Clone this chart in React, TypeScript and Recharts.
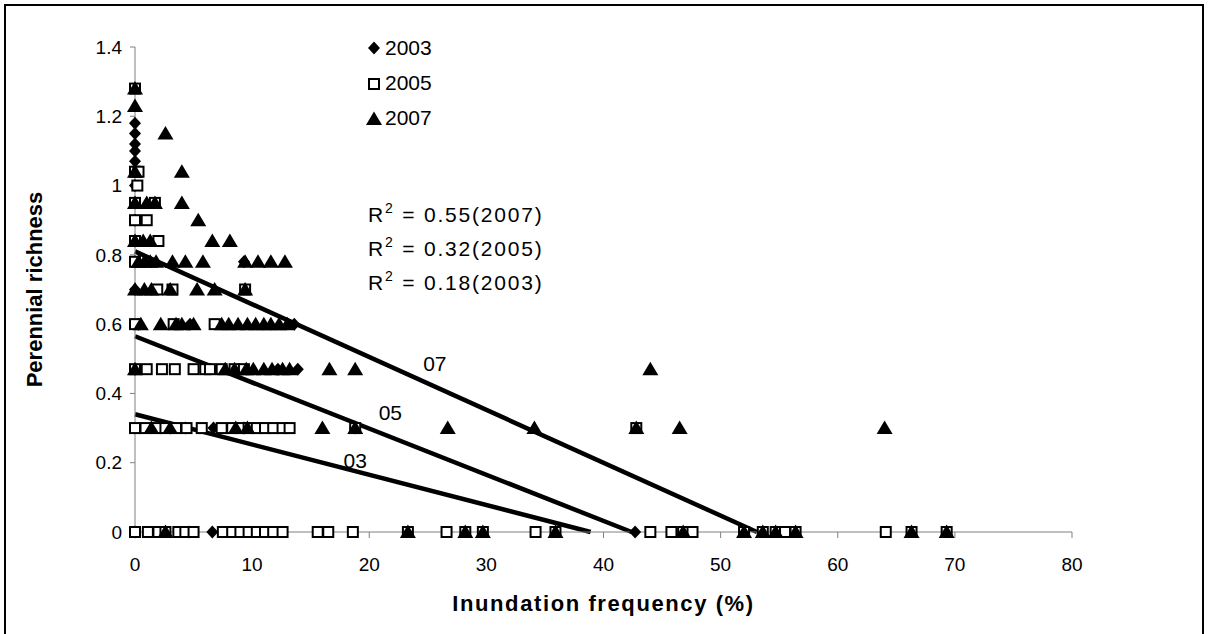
import React from "react";
import {
  ScatterChart,
  Scatter,
  XAxis,
  YAxis,
  ReferenceLine,
  ReferenceDot,
  Legend,
} from "recharts";

const FONT = '"Liberation Sans", Arial, sans-serif';

const X_TICKS = [0, 10, 20, 30, 40, 50, 60, 70, 80];
const Y_TICKS = [0, 0.2, 0.4, 0.6, 0.8, 1, 1.2, 1.4];

// 2003 (filled diamonds)
const SERIES_2003 = [
  { x: 0, y: 1.18 }, { x: 0, y: 1.15 }, { x: 0, y: 1.12 }, { x: 0, y: 1.1 },
  { x: 0, y: 1.07 }, { x: 0, y: 1.0 }, { x: 0, y: 0.95 }, { x: 0, y: 0.9 },
  { x: 0, y: 0.84 }, { x: 0, y: 0.78 }, { x: 9.3, y: 0.78 }, { x: 0, y: 0.7 },
  { x: 0.3, y: 0.6 }, { x: 4.7, y: 0.6 }, { x: 13.6, y: 0.6 },
  { x: 0, y: 0.47 }, { x: 12.2, y: 0.47 }, { x: 13.9, y: 0.47 },
  { x: 3.0, y: 0.3 }, { x: 4.3, y: 0.3 }, { x: 6.7, y: 0.3 }, { x: 9.3, y: 0.3 },
  { x: 18.8, y: 0.3 },
  { x: 0, y: 0 }, { x: 4.6, y: 0 }, { x: 6.6, y: 0 }, { x: 42.7, y: 0 },
];

// 2005 (open squares)
const SERIES_2005 = [
  { x: 0, y: 1.28 }, { x: 0, y: 1.04 }, { x: 0.3, y: 1.04 }, { x: 0.2, y: 1.0 },
  { x: 0, y: 0.95 }, { x: 1.7, y: 0.95 }, { x: 0, y: 0.9 }, { x: 1.0, y: 0.9 },
  { x: 0, y: 0.84 }, { x: 2.0, y: 0.84 }, { x: 0, y: 0.78 },
  { x: 1.9, y: 0.7 }, { x: 3.2, y: 0.7 }, { x: 9.4, y: 0.7 },
  { x: 0, y: 0.6 }, { x: 3.3, y: 0.6 }, { x: 6.8, y: 0.6 },
  { x: 0, y: 0.47 }, { x: 1.0, y: 0.47 }, { x: 2.3, y: 0.47 }, { x: 3.4, y: 0.47 },
  { x: 5.0, y: 0.47 }, { x: 6.0, y: 0.47 }, { x: 6.4, y: 0.47 }, { x: 7.4, y: 0.47 },
  { x: 8.5, y: 0.47 }, { x: 9.3, y: 0.47 },
  { x: 0, y: 0.3 }, { x: 0.9, y: 0.3 }, { x: 1.8, y: 0.3 }, { x: 2.6, y: 0.3 },
  { x: 3.5, y: 0.3 }, { x: 4.4, y: 0.3 }, { x: 5.7, y: 0.3 }, { x: 7.4, y: 0.3 },
  { x: 8.3, y: 0.3 }, { x: 9.0, y: 0.3 }, { x: 9.7, y: 0.3 }, { x: 10.4, y: 0.3 },
  { x: 11.1, y: 0.3 }, { x: 11.8, y: 0.3 }, { x: 12.6, y: 0.3 }, { x: 13.2, y: 0.3 },
  { x: 18.8, y: 0.3 }, { x: 42.8, y: 0.3 },
  { x: 0, y: 0 }, { x: 1.1, y: 0 }, { x: 2.0, y: 0 }, { x: 2.6, y: 0 },
  { x: 3.7, y: 0 }, { x: 4.3, y: 0 }, { x: 5.0, y: 0 }, { x: 7.5, y: 0 },
  { x: 8.3, y: 0 }, { x: 9.0, y: 0 }, { x: 9.7, y: 0 }, { x: 10.4, y: 0 },
  { x: 11.1, y: 0 }, { x: 11.8, y: 0 }, { x: 12.6, y: 0 }, { x: 15.6, y: 0 },
  { x: 16.5, y: 0 }, { x: 18.6, y: 0 }, { x: 23.3, y: 0 }, { x: 26.6, y: 0 },
  { x: 28.2, y: 0 }, { x: 29.7, y: 0 }, { x: 34.2, y: 0 }, { x: 35.9, y: 0 },
  { x: 44.0, y: 0 }, { x: 45.8, y: 0 }, { x: 46.8, y: 0 }, { x: 47.6, y: 0 },
  { x: 52.0, y: 0 }, { x: 53.6, y: 0 }, { x: 54.7, y: 0 }, { x: 55.5, y: 0 },
  { x: 56.4, y: 0 }, { x: 64.1, y: 0 }, { x: 66.3, y: 0 }, { x: 69.3, y: 0 },
];

// 2007 (filled triangles)
const SERIES_2007 = [
  { x: 0, y: 1.28 }, { x: 0, y: 1.23 }, { x: 2.6, y: 1.15 }, { x: 0, y: 1.04 },
  { x: 4.0, y: 1.04 }, { x: 0, y: 0.95 }, { x: 1.0, y: 0.95 }, { x: 1.7, y: 0.95 },
  { x: 4.0, y: 0.95 }, { x: 5.4, y: 0.9 }, { x: 0, y: 0.84 }, { x: 0.7, y: 0.84 },
  { x: 1.3, y: 0.84 }, { x: 6.6, y: 0.84 }, { x: 8.1, y: 0.84 },
  { x: 0.3, y: 0.78 }, { x: 0.8, y: 0.78 }, { x: 1.3, y: 0.78 }, { x: 1.8, y: 0.78 },
  { x: 3.2, y: 0.78 }, { x: 4.3, y: 0.78 }, { x: 5.8, y: 0.78 }, { x: 9.4, y: 0.78 },
  { x: 10.5, y: 0.78 }, { x: 11.6, y: 0.78 }, { x: 12.8, y: 0.78 },
  { x: 0, y: 0.7 }, { x: 0.8, y: 0.7 }, { x: 1.4, y: 0.7 }, { x: 3.0, y: 0.7 },
  { x: 5.3, y: 0.7 }, { x: 6.8, y: 0.7 }, { x: 9.4, y: 0.7 },
  { x: 0.5, y: 0.6 }, { x: 2.2, y: 0.6 }, { x: 3.5, y: 0.6 }, { x: 4.0, y: 0.6 },
  { x: 5.0, y: 0.6 }, { x: 7.4, y: 0.6 }, { x: 8.0, y: 0.6 }, { x: 8.8, y: 0.6 },
  { x: 9.6, y: 0.6 }, { x: 10.3, y: 0.6 }, { x: 11.0, y: 0.6 }, { x: 11.6, y: 0.6 },
  { x: 12.3, y: 0.6 }, { x: 13.0, y: 0.6 },
  { x: 0, y: 0.47 }, { x: 7.7, y: 0.47 }, { x: 8.5, y: 0.47 }, { x: 9.5, y: 0.47 },
  { x: 10.1, y: 0.47 }, { x: 11.0, y: 0.47 }, { x: 11.7, y: 0.47 }, { x: 12.6, y: 0.47 },
  { x: 13.2, y: 0.47 }, { x: 16.6, y: 0.47 }, { x: 18.8, y: 0.47 }, { x: 44.0, y: 0.47 },
  { x: 1.4, y: 0.3 }, { x: 3.0, y: 0.3 }, { x: 8.6, y: 0.3 }, { x: 9.6, y: 0.3 },
  { x: 16.0, y: 0.3 }, { x: 18.8, y: 0.3 }, { x: 26.7, y: 0.3 }, { x: 34.1, y: 0.3 },
  { x: 42.8, y: 0.3 }, { x: 46.5, y: 0.3 }, { x: 64.0, y: 0.3 },
  { x: 2.6, y: 0 }, { x: 23.3, y: 0 }, { x: 28.2, y: 0 }, { x: 29.7, y: 0 },
  { x: 35.9, y: 0 }, { x: 46.8, y: 0 }, { x: 52.0, y: 0 }, { x: 53.6, y: 0 },
  { x: 54.7, y: 0 }, { x: 56.4, y: 0 }, { x: 66.3, y: 0 }, { x: 69.3, y: 0 },
];

// linear trend lines (start / end points)
const TREND_2007 = [{ x: 0, y: 0.81 }, { x: 53.1, y: 0 }];
const TREND_2005 = [{ x: 0, y: 0.565 }, { x: 42.4, y: 0 }];
const TREND_2003 = [{ x: 0, y: 0.34 }, { x: 38.9, y: 0 }];

const TREND_LABELS = [
  { text: "07", x: 25.6, y: 0.485 },
  { text: "05", x: 21.8, y: 0.346 },
  { text: "03", x: 18.8, y: 0.205 },
];

const R2_LINES = [
  { r2: "0.55", year: "2007" },
  { r2: "0.32", year: "2005" },
  { r2: "0.18", year: "2003" },
];

const LEGEND_ITEMS = [
  { name: "2003", shape: "diamond" },
  { name: "2005", shape: "square" },
  { name: "2007", shape: "triangle" },
];

const Diamond = ({ cx, cy }: any) => (
  <path d={`M${cx},${cy - 6.5}L${cx + 6},${cy}L${cx},${cy + 6.5}L${cx - 6},${cy}Z`} fill="#000" />
);
const Square = ({ cx, cy }: any) => (
  <rect x={cx - 5} y={cy - 5} width={10} height={10} fill="#fff" stroke="#000" strokeWidth={2} />
);
const Triangle = ({ cx, cy }: any) => (
  <path d={`M${cx},${cy - 7.5}L${cx + 8},${cy + 6}L${cx - 8},${cy + 6}Z`} fill="#000" />
);

function LegendMarker({ shape }: { shape: string }) {
  return (
    <svg width={16} height={16} style={{ marginRight: 3 }}>
      {shape === "diamond" && <Diamond cx={8} cy={8} />}
      {shape === "square" && <Square cx={8} cy={9} />}
      {shape === "triangle" && <Triangle cx={8} cy={9} />}
    </svg>
  );
}

function YearLegend() {
  return (
    <div style={{ fontFamily: FONT, fontSize: 21, color: "#000" }}>
      {LEGEND_ITEMS.map((it) => (
        <div key={it.name} style={{ display: "flex", alignItems: "center", height: 35 }}>
          <LegendMarker shape={it.shape} />
          <span>{it.name}</span>
        </div>
      ))}
    </div>
  );
}

export default function App() {
  return (
    <div style={{ position: "absolute", left: 0, top: 0, width: 1209, height: 634, background: "#fff", overflow: "hidden" }}>
      <div
        style={{
          position: "absolute",
          left: 4,
          top: 4,
          width: 1200,
          height: 640,
          border: "2px solid #000",
          boxSizing: "border-box",
        }}
      />
      <ScatterChart width={1209} height={634} margin={{ top: 47, right: 137, bottom: 12, left: 15 }}>
        <XAxis
          type="number"
          dataKey="x"
          domain={[0, 80]}
          ticks={X_TICKS}
          interval={0}
          height={90}
          stroke="#808080"
          tickSize={6}
          tickMargin={20}
          tick={{ fill: "#000", fontSize: 19, fontFamily: FONT }}
          label={{
            value: "Inundation frequency (%)",
            position: "insideBottom",
            offset: 11,
            style: { fontFamily: FONT, fontSize: 22, fontWeight: "bold", fill: "#000", letterSpacing: 1.6 },
          }}
        />
        <YAxis
          type="number"
          dataKey="y"
          domain={[0, 1.4]}
          ticks={Y_TICKS}
          interval={0}
          width={120}
          stroke="#808080"
          tickSize={5}
          tickMargin={8}
          tick={{ fill: "#000", fontSize: 19, fontFamily: FONT }}
          label={{
            value: "Perennial richness",
            angle: -90,
            position: "insideLeft",
            offset: 19,
            style: { fontFamily: FONT, fontSize: 22, fontWeight: "bold", fill: "#000", textAnchor: "middle" },
          }}
        />
        <Scatter name="2003" data={SERIES_2003} shape={Diamond} isAnimationActive={false} />
        <Scatter name="2005" data={SERIES_2005} shape={Square} isAnimationActive={false} />
        <Scatter name="2007" data={SERIES_2007} shape={Triangle} isAnimationActive={false} />
        <ReferenceLine segment={TREND_2007} stroke="#000" strokeWidth={4.5} />
        <ReferenceLine segment={TREND_2005} stroke="#000" strokeWidth={4.5} />
        <ReferenceLine segment={TREND_2003} stroke="#000" strokeWidth={4.5} />
        {TREND_LABELS.map((l) => (
          <ReferenceDot
            key={l.text}
            x={l.x}
            y={l.y}
            r={0}
            stroke="none"
            fill="none"
            label={{ value: l.text, position: "center", fill: "#000", fontSize: 21, fontFamily: FONT }}
          />
        ))}
        <Legend
          layout="vertical"
          align="center"
          verticalAlign="middle"
          content={() => <YearLegend />}
          wrapperStyle={{ left: 366, top: 30, width: 90, height: 105 }}
        />
      </ScatterChart>
      <div
        style={{
          position: "absolute",
          left: 368,
          top: 198,
          fontFamily: FONT,
          fontSize: 21,
          color: "#000",
          lineHeight: "34px",
          letterSpacing: 1.8,
        }}
      >
        {R2_LINES.map((l) => (
          <div key={l.year}>
            R<sup style={{ fontSize: 14, verticalAlign: "9px", lineHeight: 0 }}>2</sup> = {l.r2}({l.year})
          </div>
        ))}
      </div>
    </div>
  );
}
